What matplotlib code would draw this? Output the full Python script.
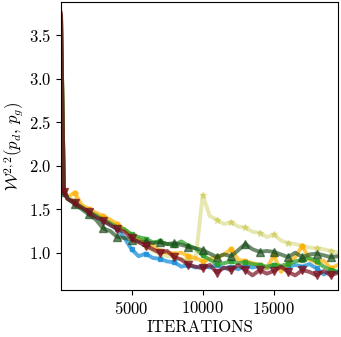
import matplotlib
matplotlib.use("Agg")
import matplotlib.pyplot as plt

plt.rcParams['font.family'] = ['cmr10', 'DejaVu Serif']
plt.rcParams['mathtext.fontset'] = 'cm'
plt.rcParams['axes.formatter.use_mathtext'] = True

# iterations (x)
iters = [50, 250, 500, 1000, 1500, 2000, 2500, 3000, 3500, 4000, 4500,
         5000, 5500, 6000, 6500, 7000, 7500, 8000, 8500, 9000, 9500,
         10000, 10500, 11000, 11500, 12000, 12500, 13000, 13500, 14000, 14500,
         15000, 15500, 16000, 16500, 17000, 17500, 18000, 18500, 19000, 19500]

# W^{2,2} values per run
olive = [3.70, 1.72, 1.64, 1.60, 1.54, 1.48, 1.44, 1.39, 1.35, 1.31, 1.26,
         1.20, 1.14, 1.08, 1.02, 0.99, 0.96, 0.95, 0.93, 0.92, 0.92,
         1.66, 1.42, 1.38, 1.33, 1.35, 1.30, 1.29, 1.24, 1.23, 1.18,
         1.21, 1.14, 1.11, 1.10, 1.08, 1.06, 1.05, 1.04, 1.02, 1.00]
blue = [3.70, 1.70, 1.63, 1.57, 1.52, 1.46, 1.41, 1.36, 1.32, 1.27, 1.17,
        1.04, 0.96, 0.99, 0.94, 0.93, 0.90, 0.89, 0.84, 0.86, 0.83,
        0.85, 0.83, 0.86, 0.82, 0.84, 0.81, 0.85, 0.83, 0.85, 0.82,
        0.86, 0.83, 0.84, 0.86, 0.84, 0.87, 0.82, 0.75, 0.80, 0.78]
yellow = [3.70, 1.72, 1.64, 1.69, 1.55, 1.50, 1.46, 1.42, 1.38, 1.33, 1.27,
          1.20, 1.16, 1.12, 1.08, 1.02, 1.00, 0.99, 1.00, 0.96, 0.94,
          0.90, 0.93, 0.95, 0.98, 1.04, 0.92, 0.90, 0.88, 0.86, 0.82,
          0.97, 0.78, 0.88, 0.95, 1.08, 0.92, 0.89, 0.91, 0.82, 0.86]
green = [3.70, 1.70, 1.62, 1.58, 1.52, 1.47, 1.43, 1.38, 1.34, 1.29, 1.27,
         1.21, 1.18, 1.16, 1.12, 1.13, 1.10, 1.09, 1.13, 1.08, 1.05,
         0.97, 0.92, 0.87, 0.88, 0.90, 0.88, 0.89, 0.87, 0.86, 0.84,
         0.86, 0.85, 0.87, 0.90, 0.92, 0.94, 0.90, 0.84, 0.80, 0.78]
dkgreen = [3.72, 1.70, 1.62, 1.56, 1.50, 1.44, 1.38, 1.28, 1.25, 1.18, 1.17,
           1.15, 1.13, 1.12, 1.11, 1.12, 1.10, 1.11, 1.09, 1.07, 1.05,
           1.03, 0.99, 0.95, 0.98, 0.96, 1.03, 1.10, 1.04, 1.01, 1.02,
           1.01, 0.98, 0.95, 1.00, 0.95, 0.98, 0.99, 0.97, 0.95, 0.96]
dkred = [3.75, 1.70, 1.62, 1.57, 1.52, 1.47, 1.41, 1.37, 1.32, 1.27, 1.24,
         1.17, 1.12, 1.08, 1.04, 1.00, 1.02, 0.95, 0.92, 0.86, 0.84,
         0.82, 0.86, 0.77, 0.83, 0.80, 0.86, 0.80, 0.74, 0.80, 0.76,
         0.79, 0.84, 0.78, 0.74, 0.80, 0.78, 0.74, 0.79, 0.74, 0.77]

# data, colour, marker, alpha, marker size
runs = [
    (olive, '#bcbd22', '*', 0.35, 5),
    (blue, '#1a8fd8', 's', 0.75, 3.5),
    (yellow, '#ffb000', 'o', 0.7, 3.5),
    (green, '#2ca02c', 's', 0.75, 3.5),
    (dkgreen, '#1c4d1c', '^', 0.65, 5.5),
    (dkred, '#7a1020', 'v', 0.7, 5.5),
]

fig = plt.figure(figsize=(3.41, 3.37), dpi=100)
ax = fig.add_axes([0.179, 0.139, 0.812, 0.855])

for vals, col, mk, a, ms in runs:
    ax.plot(iters, vals, color=col, alpha=a, lw=2.8, marker=mk, markersize=ms,
            markevery=(1, 2))

ax.set_xlim(50, 19500)
ax.set_ylim(0.57, 3.88)
ax.set_xticks([5000, 10000, 15000])
ax.set_yticks([1.0, 1.5, 2.0, 2.5, 3.0, 3.5])
ax.tick_params(labelsize=12, direction='out', length=3.5, width=0.8)
ax.set_xlabel('ITERATIONS', fontsize=12, labelpad=2)
ax.set_ylabel(r'$\mathcal{W}^{2,2}(p_d,\, p_g)$', fontsize=12, labelpad=2)

fig.savefig('out.png', dpi=100)
